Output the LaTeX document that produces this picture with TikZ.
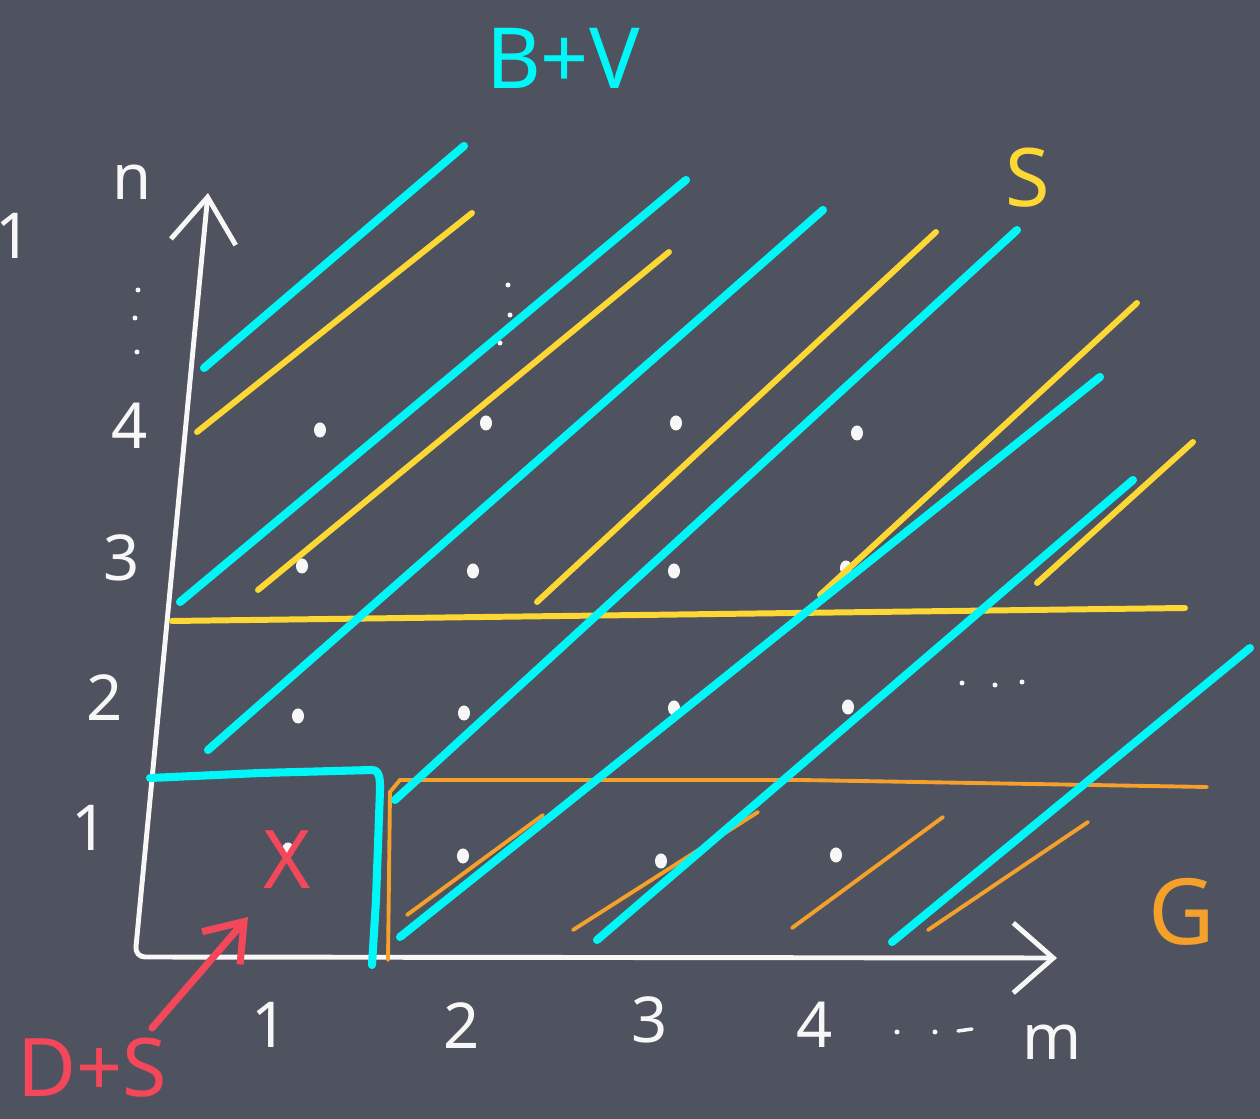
\documentclass[tikz,border=0pt]{standalone}
\usepackage{fontspec}
\setsansfont{Noto Sans}
\usetikzlibrary{arrows.meta}
\definecolor{pizarra}{HTML}{4E535F}
\definecolor{tiza}{HTML}{F7F7F7}
\definecolor{cian}{HTML}{00F7F7}
\definecolor{amarillo}{HTML}{FDD835}
\definecolor{naranja}{HTML}{F5A02A}
\definecolor{rojo}{HTML}{F5475A}
\begin{document}
\begin{tikzpicture}[x=0.01cm, y=-0.01cm, font=\sffamily\fontsize{18}{22}\selectfont,
    every node/.style={inner sep=0pt},
    eje/.style={tiza, line width=1.4pt, line cap=round, rounded corners=1mm},
    trazocian/.style={cian, line width=2.3pt, line cap=round},
    trazoamarillo/.style={amarillo, line width=1.7pt, line cap=round},
    trazonaranja/.style={naranja, line width=1.1pt, line cap=round}]
    \useasboundingbox (0,0) rectangle (1260,1119);
    \fill[pizarra] (0,0) rectangle (1260,1119);
    % ejes
    \coordinate (origen) at (135,957);
    \coordinate (tope-n) at (208,193);
    \coordinate (tope-m) at (1057,958);
    \draw[eje, {Straight Barb[length=4.5mm, width=6.5mm]}-{Straight Barb[length=4mm, width=7mm]}]
      (tope-n) -- (origen) -- (tope-m);
    \node[text=tiza] (n) at (132,182) {n};
    \node[text=tiza] (m) at (1052,1042) {m};
    \foreach \t/\x/\y in {1/14/236, 4/130/426, 3/122/558, 2/105/698, 1/90/828}
      \node[text=tiza] (fila-\y) at (\x,\y) {\t};
    \foreach \t/\x/\y in {1/270/1025, 2/462/1026, 3/650/1020, 4/815/1025}
      \node[text=tiza] (col-\t) at (\x,\y) {\t};
    \foreach \x/\y in {320/430, 486/423, 676/423, 857/433, 302/566, 473/571, 674/571, 846/568,
                       298/716, 464/713, 674/708, 848/707, 288/850, 463/856, 661/861, 836/855}
      \fill[tiza] (\x,\y) ellipse [x radius=0.6mm, y radius=0.75mm];
    \foreach \x/\y in {138/290, 135/318, 137/352, 508/285, 510/315, 500/343,
                       962/683, 995/685, 1022/682, 897/1032, 935/1032}
      \fill[tiza] (\x,\y) circle [radius=0.25mm];
    \draw[tiza, line width=1pt, line cap=round] (958,1031) -- (972,1029);
    % G
    \draw[trazonaranja] (388,960) -- (390,792) -- (400,780) -- (800,780) -- (1207,787);
    \foreach \a/\b/\c/\d in {407/915/543/815, 573/930/758/812, 792/928/943/817, 928/930/1088/822}
      \draw[trazonaranja] (\a,\b) -- (\c,\d);
    % S
    \draw[trazoamarillo] (172,621) -- (1185,608);
    \foreach \a/\b/\c/\d in {197/432/472/213, 258/590/669/252, 537/602/936/232,
                             820/595/1137/303, 1037/583/1193/442}
      \draw[trazoamarillo] (\a,\b) -- (\c,\d);
    % B+V
    \draw[trazocian] (150,778) -- (260,773) -- (372,770) to[out=0, in=90] (380,790) -- (376,900) -- (372,965);
    \foreach \a/\b/\c/\d in {204/368/464/146, 180/602/686/180, 208/750/823/210, 395/800/1017/230,
                             400/937/1100/377, 597/940/1133/480, 892/942/1250/648}
      \draw[trazocian] (\a,\b) -- (\c,\d);
    \node[text=cian, font=\sffamily\fontsize{24}{28}\selectfont] (bv) at (563,58) {B+V};
    \node[text=amarillo, font=\sffamily\fontsize{23}{26}\selectfont] (s) at (1028,178) {S};
    \node[text=naranja, font=\sffamily\fontsize{26}{30}\selectfont] (g) at (1182,912) {G};
    % D+S
    \node[text=rojo, font=\sffamily\fontsize{23}{26}\selectfont] (x) at (287,860) {X};
    \node[text=rojo, font=\sffamily\fontsize{23}{26}\selectfont] (ds) at (92,1068) {D+S};
    \coordinate (flecha-ini) at (152,1028);
    \coordinate (flecha-fin) at (248,917);
    \draw[rojo, line width=2pt, line cap=round, -{Straight Barb[length=3.5mm, width=5mm]}]
      (flecha-ini) -- (flecha-fin);
\end{tikzpicture}
\end{document}
